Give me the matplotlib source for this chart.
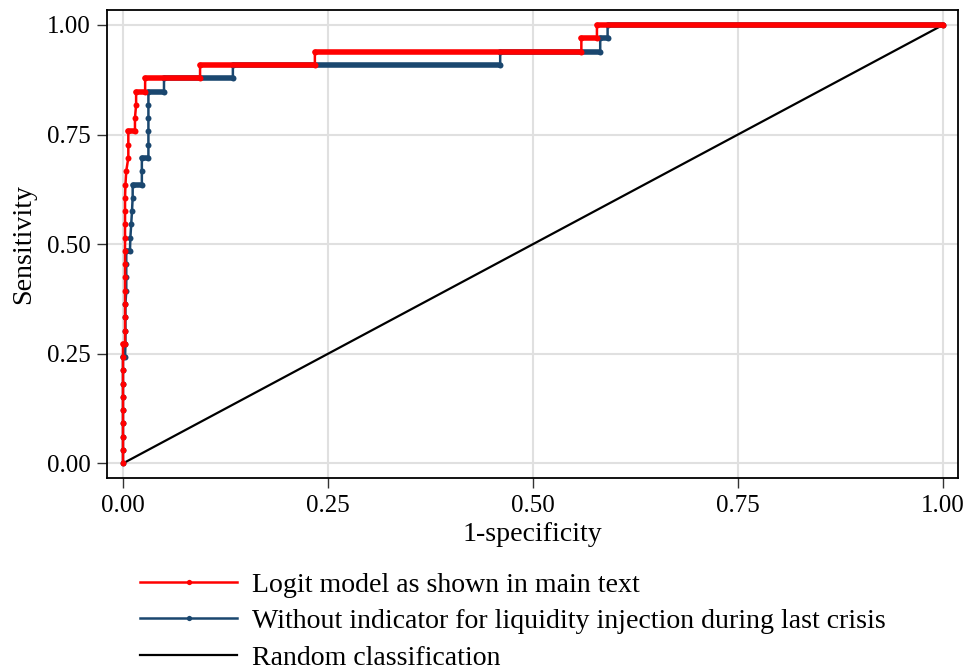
import matplotlib
matplotlib.use("Agg")
import matplotlib.pyplot as plt

# ---- data (1-specificity, sensitivity) ----
red_fpr = [0, 0, 0, 0, 0, 0, 0, 0, 0, 0,
           0.0025, 0.0025, 0.0025, 0.0025, 0.0025, 0.0025, 0.0025, 0.0025, 0.0025, 0.0025, 0.0025, 0.0025,
           0.003, 0.004, 0.0065, 0.0065, 0.0065, 0.0146, 0.0146, 0.016, 0.016, 0.027, 0.027,
           0.094, 0.094, 0.234, 0.234, 0.559, 0.559, 0.578, 0.578, 1.0]
red_tpr = [0.000, 0.030, 0.061, 0.091, 0.121, 0.152, 0.182, 0.212, 0.242, 0.273,
           0.273, 0.303, 0.333, 0.364, 0.394, 0.424, 0.455, 0.485, 0.515, 0.545, 0.576, 0.606,
           0.636, 0.667, 0.697, 0.727, 0.758, 0.758, 0.788, 0.818, 0.848, 0.848, 0.879,
           0.879, 0.909, 0.909, 0.939, 0.939, 0.970, 0.970, 1.000, 1.000]

blue_fpr = [0, 0, 0, 0, 0, 0, 0, 0, 0,
            0.0025, 0.003, 0.003, 0.003, 0.003, 0.004, 0.004, 0.004, 0.004,
            0.0085, 0.009, 0.010, 0.011, 0.0118, 0.0118, 0.023, 0.023, 0.023, 0.031,
            0.031, 0.031, 0.031, 0.031, 0.031, 0.050, 0.050, 0.134, 0.134, 0.460, 0.460,
            0.582, 0.582, 0.591, 0.591, 1.0]
blue_tpr = [0.000, 0.030, 0.061, 0.091, 0.121, 0.152, 0.182, 0.212, 0.242,
            0.242, 0.273, 0.303, 0.333, 0.364, 0.394, 0.424, 0.455, 0.485,
            0.485, 0.515, 0.545, 0.576, 0.606, 0.636, 0.636, 0.667, 0.697, 0.697,
            0.727, 0.758, 0.788, 0.818, 0.848, 0.848, 0.879, 0.879, 0.909, 0.909, 0.939,
            0.939, 0.970, 0.970, 1.000, 1.000]

random_x = [0, 1]
random_y = [0, 1]

ticks = [0.00, 0.25, 0.50, 0.75, 1.00]
tick_labels = ["0.00", "0.25", "0.50", "0.75", "1.00"]
labels = ["Logit model as shown in main text",
          "Without indicator for liquidity injection during last crisis",
          "Random classification"]

RED = "#ff0000"
BLUE = "#1a476f"

plt.rcParams['font.family'] = ['Liberation Serif', 'DejaVu Serif']
FS_TICK = 18
FS = 20.1

fig = plt.figure(figsize=(9.68, 6.70), dpi=100)
ax = fig.add_axes([107/968, 1 - 478.3/670, (958.3-107)/968, (478.3-10)/670])


def horiz_runs(xs, ys):
    segs = []
    for i in range(len(xs) - 1):
        if ys[i] == ys[i + 1] and xs[i] != xs[i + 1]:
            segs.append(((xs[i], xs[i + 1]), (ys[i], ys[i + 1])))
    return segs


ax.plot(random_x, random_y, color="black", lw=1.6, zorder=2)

for xs, ys, col, z in [(blue_fpr, blue_tpr, BLUE, 3), (red_fpr, red_tpr, RED, 4)]:
    ax.plot(xs, ys, color=col, lw=1.8, marker="o", ms=4.3, mew=0, zorder=z)
    for sx, sy in horiz_runs(xs, ys):
        ax.plot(sx, sy, color=col, lw=4.0, solid_capstyle="round", zorder=z)

# legend proxies
h1, = ax.plot([], [], color=RED, lw=1.8, marker="o", ms=3.8, mew=0)
h2, = ax.plot([], [], color=BLUE, lw=1.8, marker="o", ms=3.8, mew=0)
h3, = ax.plot([], [], color="black", lw=1.6)

ax.set_xlim(-0.0195, 1.0187)
ax.set_ylim(-0.034, 1.034)
ax.set_xticks(ticks)
ax.set_xticklabels(tick_labels)
ax.set_yticks(ticks)
ax.set_yticklabels(tick_labels)
ax.tick_params(axis="both", direction="out", length=7.2, width=1.0, pad=4.5,
               labelsize=FS_TICK, color="#333333")
ax.grid(True, color="#e0e0e0", lw=1.5, zorder=0)
ax.set_axisbelow(True)
for s in ax.spines.values():
    s.set_linewidth(1.3)
    s.set_color("black")

ax.set_xlabel("1-specificity", fontsize=FS, labelpad=4)
ax.set_ylabel("Sensitivity", fontsize=FS, labelpad=8)

leg = fig.legend([h1, h2, h3], labels, loc="upper left",
                 bbox_to_anchor=(140/968, 1 - 572/670), frameon=False,
                 fontsize=FS, handlelength=3.48, handletextpad=0.54,
                 labelspacing=0.40, borderpad=0, borderaxespad=0, numpoints=1)

fig.savefig("out.png", dpi=100)
